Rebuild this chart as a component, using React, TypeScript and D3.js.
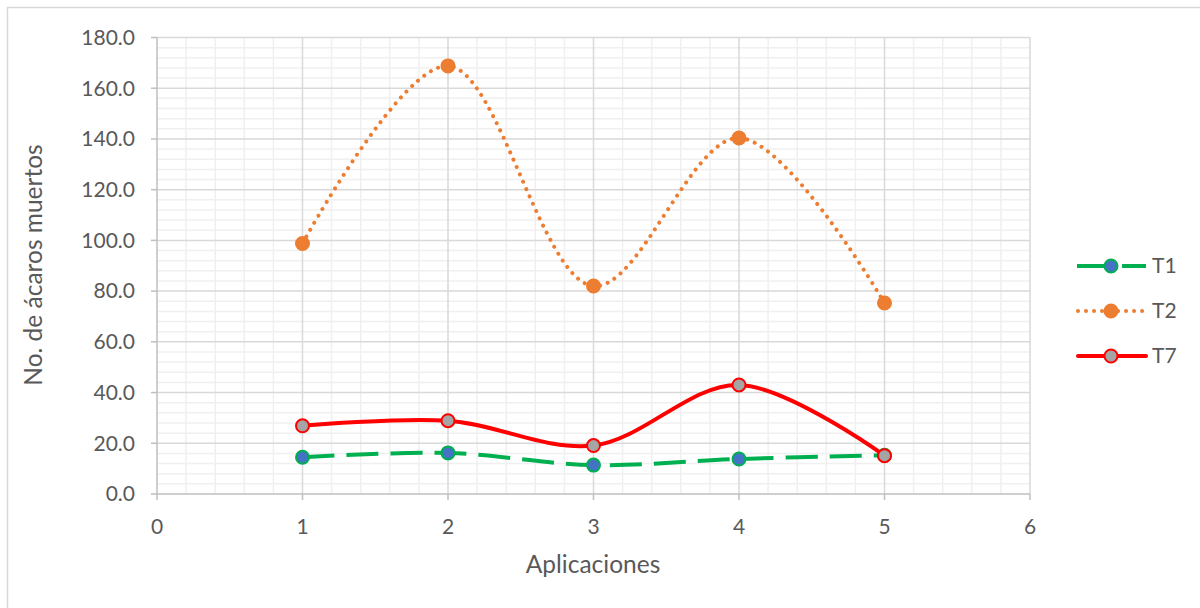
import React from "react";
import * as d3 from "d3";

const xValues = [1, 2, 3, 4, 5];
const seriesNames = ["T1", "T2", "T7"];
const t1Values = [14.5, 16.2, 11.4, 13.8, 15.3];
const t2Values = [98.8, 168.8, 82.0, 140.4, 75.3];
const t7Values = [26.9, 28.9, 19.1, 43.0, 15.1];
const xTicks = [0, 1, 2, 3, 4, 5, 6];
const yTicks = [0, 20, 40, 60, 80, 100, 120, 140, 160, 180];

const W = 1200;
const H = 608;
const FONT = "Lato, 'Open Sans', sans-serif";
const TEXT = "#595959";

const styles = [
  { line: "#00B050", dash: "32,12", cap: "butt", fill: "#4472C4", stroke: "#00B050" },
  { line: "#ED7D31", dash: "0.01,8", cap: "round", fill: "#ED7D31", stroke: "#ED7D31" },
  { line: "#FF0000", dash: "none", cap: "round", fill: "#A5A5A5", stroke: "#FF0000" },
];

export default function App() {
  const x = d3.scaleLinear().domain([0, 6]).range([157, 1030]);
  const y = d3.scaleLinear().domain([0, 180]).range([494, 37.5]);
  const series = [t1Values, t2Values, t7Values];
  const line = d3
    .line<[number, number]>()
    .x((d) => x(d[0]))
    .y((d) => y(d[1]))
    .curve(d3.curveCatmullRom.alpha(0.5));

  const minorY = d3.range(0, 181, 4).filter((v) => v % 20 !== 0);
  const minorX = d3.range(0, 6.001, 0.2).filter((v) => Math.abs(v - Math.round(v)) > 0.01);

  const legendY = [266, 311, 356];

  return (
    <svg width={W} height={H} style={{ display: "block", position: "absolute", left: 0, top: 0 }}>
      <rect x={0} y={0} width={W} height={H} fill="#fff" />
      <rect x={7.5} y={7.5} width={W + 10} height={H + 10} fill="none" stroke="#d9d9d9" strokeWidth={1.5} />
      {/* minor gridlines */}
      {minorY.map((v) => (
        <line key={"my" + v} x1={x(0)} x2={x(6)} y1={y(v)} y2={y(v)} stroke="#f0f0f0" strokeWidth={1.5} />
      ))}
      {minorX.map((v) => (
        <line key={"mx" + v} x1={x(v)} x2={x(v)} y1={y(0)} y2={y(180)} stroke="#f0f0f0" strokeWidth={1.5} />
      ))}
      {/* major gridlines */}
      {yTicks.filter((v) => v > 0).map((v) => (
        <line key={"gy" + v} x1={x(0)} x2={x(6)} y1={y(v)} y2={y(v)} stroke="#d9d9d9" strokeWidth={1.5} />
      ))}
      {xTicks.filter((v) => v > 0).map((v) => (
        <line key={"gx" + v} x1={x(v)} x2={x(v)} y1={y(0)} y2={y(180)} stroke="#d9d9d9" strokeWidth={1.5} />
      ))}
      {/* axes */}
      <line x1={x(0)} x2={x(0)} y1={y(0)} y2={y(180)} stroke="#bfbfbf" strokeWidth={1.5} />
      <line x1={x(0)} x2={x(6)} y1={y(0)} y2={y(0)} stroke="#bfbfbf" strokeWidth={1.5} />
      {yTicks.map((v) => (
        <g key={"yt" + v}>
          <line x1={x(0) - 6} x2={x(0)} y1={y(v)} y2={y(v)} stroke="#bfbfbf" strokeWidth={1.5} />
          <text x={135} y={y(v)} dy="0.35em" textAnchor="end" fontFamily={FONT} fontSize={21} fill={TEXT}>
            {v.toFixed(1)}
          </text>
        </g>
      ))}
      {xTicks.map((v) => (
        <g key={"xt" + v}>
          <line x1={x(v)} x2={x(v)} y1={y(0)} y2={y(0) + 6} stroke="#bfbfbf" strokeWidth={1.5} />
          <text x={x(v)} y={527} dy="0.35em" textAnchor="middle" fontFamily={FONT} fontSize={21} fill={TEXT}>
            {v}
          </text>
        </g>
      ))}
      <text x={593} y={564} dy="0.35em" textAnchor="middle" fontFamily={FONT} fontSize={24.5} fill={TEXT}>
        Aplicaciones
      </text>
      <text
        transform={`translate(33,265) rotate(-90)`}
        dy="0.35em"
        textAnchor="middle"
        fontFamily={FONT}
        fontSize={24.5}
        fill={TEXT}
      >
        No. de ácaros muertos
      </text>
      {/* series */}
      {series.map((vals, i) => {
        const pts = xValues.map((xv, j) => [xv, vals[j]] as [number, number]);
        const s = styles[i];
        return (
          <g key={"s" + i}>
            <path
              d={line(pts) || ""}
              fill="none"
              stroke={s.line}
              strokeWidth={4}
              strokeDasharray={s.dash}
              strokeLinecap={s.cap as any}
            />
            {pts.map((p, j) => (
              <circle key={j} cx={x(p[0])} cy={y(p[1])} r={6.5} fill={s.fill} stroke={s.stroke} strokeWidth={2} />
            ))}
          </g>
        );
      })}
      {/* legend */}
      {seriesNames.map((n, i) => {
        const s = styles[i];
        const ly = legendY[i];
        return (
          <g key={"l" + n}>
            {i === 0 ? (
              <>
                <line x1={1077} x2={1104} y1={ly} y2={ly} stroke={s.line} strokeWidth={4} />
                <line x1={1122} x2={1146} y1={ly} y2={ly} stroke={s.line} strokeWidth={4} />
              </>
            ) : (
              <line
                x1={1078}
                x2={1146}
                y1={ly}
                y2={ly}
                stroke={s.line}
                strokeWidth={4}
                strokeDasharray={s.dash}
                strokeLinecap={s.cap as any}
              />
            )}
            <circle cx={1111} cy={ly} r={6.5} fill={s.fill} stroke={s.stroke} strokeWidth={2} />
            <text x={1152} y={ly} dy="0.35em" fontFamily={FONT} fontSize={21} fill={TEXT}>
              {n}
            </text>
          </g>
        );
      })}
    </svg>
  );
}
